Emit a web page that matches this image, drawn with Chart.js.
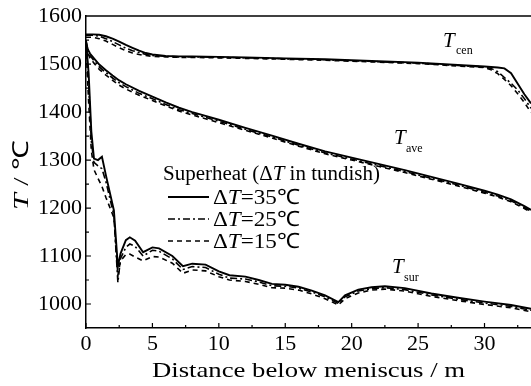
<!DOCTYPE html>
<html lang="en">
  <head>
    <meta charset="UTF-8" />
    <title>Temperature below meniscus</title>
    <script src="https://cdn.jsdelivr.net/npm/chart.js@4.4.1/dist/chart.umd.min.js"></script>
    <style>
      body {
        margin: 0;
        background: #fff;
      }
    </style>
  </head>
  <body>
    <canvas id="chart" width="531" height="386"></canvas>
    <script>
      // distance below meniscus (m)
      const xCen = [0, 0.5, 1, 1.5, 2, 2.5, 3, 3.5, 4, 4.5, 5, 6, 7, 8, 10, 12, 15, 18, 20, 22, 25, 28, 30, 30.5, 31, 31.5, 32, 32.5, 33, 33.5];
      const cen35 = [1562, 1562, 1561, 1558, 1553, 1547, 1540, 1534, 1528, 1523, 1520, 1517, 1516, 1516, 1515, 1514, 1512, 1510, 1508, 1506, 1503, 1498, 1495, 1494, 1493, 1491, 1481, 1459, 1437, 1418];
      const cen25 = [1560, 1560, 1558, 1553, 1547, 1540, 1533, 1528, 1524, 1520, 1518, 1516, 1515, 1515, 1514, 1513, 1511, 1509, 1507, 1505, 1502, 1497, 1494, 1491, 1484, 1472, 1460, 1446, 1428, 1408];
      const cen15 = [1556, 1556, 1553, 1548, 1541, 1534, 1528, 1523, 1520, 1518, 1516, 1515, 1514, 1514, 1513, 1512, 1510, 1508, 1506, 1504, 1501, 1496, 1493, 1488, 1480, 1468, 1455, 1438, 1420, 1399];

      const xAve = [0, 0.15, 0.3, 0.6, 1, 1.5, 2, 2.5, 3, 4, 5, 6, 7, 8, 9, 10, 12, 14, 16, 18, 20, 22, 24, 26, 28, 30, 31, 32, 33, 33.5];
      const ave35 = [1545, 1530, 1522, 1512, 1499, 1487, 1476, 1466, 1458, 1444, 1432, 1420, 1409, 1400, 1392, 1384, 1367, 1351, 1334, 1318, 1305, 1292, 1279, 1265, 1251, 1236, 1228, 1218, 1204, 1196];
      const ave25 = [1550, 1527, 1518, 1507, 1494, 1482, 1471, 1461, 1453, 1439, 1428, 1416, 1405, 1397, 1389, 1381, 1364, 1348, 1331, 1315, 1302, 1289, 1276, 1262, 1248, 1233, 1225, 1215, 1201, 1193];
      const ave15 = [1540, 1522, 1513, 1502, 1489, 1477, 1466, 1456, 1448, 1435, 1424, 1413, 1402, 1394, 1386, 1378, 1362, 1346, 1329, 1313, 1300, 1287, 1274, 1260, 1246, 1231, 1223, 1213, 1199, 1191];

      const xSur = [0, 0.2, 0.4, 0.6, 0.9, 1.2, 1.5, 2.1, 2.4, 2.6, 3.0, 3.3, 3.7, 4.3, 5.0, 5.5, 6.5, 7.3, 8.0, 9.0, 10.0, 10.8, 12, 13, 14, 15, 16, 17, 18, 19, 19.5, 20.5, 21.5, 22.5, 24, 26, 28, 30, 32, 33.5];
      const sur35 = [1550, 1480, 1360, 1303, 1300, 1307, 1268, 1195, 1078, 1105, 1133, 1139, 1132, 1108, 1118, 1116, 1100, 1079, 1084, 1082, 1068, 1060, 1057, 1050, 1042, 1040, 1036, 1028, 1018, 1004, 1018, 1030, 1035, 1037, 1033, 1022, 1013, 1005, 998, 990];
      const sur25 = [1548, 1460, 1340, 1295, 1288, 1282, 1255, 1185, 1045, 1095, 1118, 1125, 1120, 1100, 1112, 1110, 1094, 1072, 1078, 1076, 1062, 1054, 1052, 1046, 1038, 1037, 1033, 1025, 1015, 1001, 1015, 1027, 1032, 1034, 1030, 1019, 1010, 1002, 995, 987];
      const sur15 = [1540, 1420, 1320, 1280, 1262, 1245, 1222, 1180, 1060, 1090, 1103, 1104, 1098, 1090, 1099, 1098, 1085, 1064, 1071, 1069, 1057, 1050, 1047, 1041, 1034, 1033, 1029, 1021, 1011, 998, 1011, 1023, 1029, 1031, 1027, 1016, 1007, 999, 992, 984];

      const xTicks = [0, 5, 10, 15, 20, 25, 30];
      const yTicks = [1000, 1100, 1200, 1300, 1400, 1500, 1600];

      const serif = "'Liberation Serif', serif";
      const solid = [];
      const dashDot = [7, 3, 2, 3];
      const dashed = [5, 4];

      function pts(xs, ys) {
        return xs.map((x, i) => ({ x: x, y: ys[i] }));
      }

      function line(label, xs, ys, dash) {
        return {
          label: label,
          data: pts(xs, ys),
          borderColor: "#000",
          borderWidth: dash.length ? 1.6 : 1.9,
          borderDash: dash,
          pointRadius: 0,
          fill: false,
          tension: 0
        };
      }

      // ticks, top frame, titles, legend and curve labels
      const extras = {
        id: "extras",
        afterDraw(chart) {
          const ctx = chart.ctx;
          const a = chart.chartArea;
          const sx = chart.scales.x;
          const sy = chart.scales.y;
          ctx.save();
          ctx.strokeStyle = "#000";
          ctx.fillStyle = "#000";

          ctx.lineWidth = 1.5;
          ctx.beginPath();
          ctx.moveTo(a.left, a.top);
          ctx.lineTo(a.right, a.top);
          ctx.stroke();

          ctx.lineWidth = 1.2;
          ctx.beginPath();
          for (let v = 0; v <= 33; v += 2.5) {
            const px = sx.getPixelForValue(v);
            const len = v % 5 === 0 ? 5 : 3;
            ctx.moveTo(px, a.bottom);
            ctx.lineTo(px, a.bottom - len);
          }
          for (let v = 1000; v <= 1550; v += 50) {
            const py = sy.getPixelForValue(v);
            const len = v % 100 === 0 ? 5 : 3;
            ctx.moveTo(a.left, py);
            ctx.lineTo(a.left + len, py);
          }
          ctx.stroke();

          // mixed upright / italic text, optionally stretched to a width
          function runs(parts, x, y, size, width) {
            ctx.save();
            ctx.textBaseline = "alphabetic";
            ctx.textAlign = "left";
            let total = 0;
            parts.forEach(p => {
              ctx.font = (p[1] ? "italic " : "") + size + "px " + serif;
              total += ctx.measureText(p[0]).width;
            });
            ctx.translate(x, y);
            if (width) ctx.scale(width / total, 1);
            let cx = 0;
            parts.forEach(p => {
              ctx.font = (p[1] ? "italic " : "") + size + "px " + serif;
              ctx.fillText(p[0], cx, 0);
              cx += ctx.measureText(p[0]).width;
            });
            ctx.restore();
          }

          // axis titles
          runs([["Distance below meniscus / m", false]], 152, 377, 22, 313);
          ctx.save();
          ctx.translate(28, 210);
          ctx.rotate(-Math.PI / 2);
          runs([["T", true], [" / \u2103", false]], 0, 0, 22, 70);
          ctx.restore();

          // legend
          runs([["Superheat (\u0394", false], ["T", true], [" in tundish)", false]], 163, 180, 20, 217);
          const rows = [
            [solid, "35", 197],
            [dashDot, "25", 219],
            [dashed, "15", 241]
          ];
          rows.forEach(r => {
            ctx.setLineDash(r[0]);
            ctx.lineWidth = r[0].length ? 1.6 : 1.9;
            ctx.beginPath();
            ctx.moveTo(168, r[2]);
            ctx.lineTo(209, r[2]);
            ctx.stroke();
            ctx.setLineDash([]);
            runs([["\u0394", false], ["T", true], ["=" + r[1] + "\u2103", false]], 213, r[2] + 7, 21, 87);
          });

          // curve labels
          runs([["T", true]], 443, 47, 21);
          runs([["cen", false]], 456, 54, 12);
          runs([["T", true]], 394, 144, 21);
          runs([["ave", false]], 406, 152, 12);
          runs([["T", true]], 392, 273, 21);
          runs([["sur", false]], 404, 281, 12);

          ctx.restore();
        }
      };

      new Chart(document.getElementById("chart"), {
        type: "line",
        data: {
          datasets: [
            line("T_cen, ΔT=35", xCen, cen35, solid),
            line("T_cen, ΔT=25", xCen, cen25, dashDot),
            line("T_cen, ΔT=15", xCen, cen15, dashed),
            line("T_ave, ΔT=35", xAve, ave35, solid),
            line("T_ave, ΔT=25", xAve, ave25, dashDot),
            line("T_ave, ΔT=15", xAve, ave15, dashed),
            line("T_sur, ΔT=35", xSur, sur35, solid),
            line("T_sur, ΔT=25", xSur, sur25, dashDot),
            line("T_sur, ΔT=15", xSur, sur15, dashed)
          ]
        },
        options: {
          responsive: false,
          animation: false,
          devicePixelRatio: 1,
          layout: { padding: { top: 13, right: 0, bottom: 0, left: 0 } },
          plugins: {
            legend: { display: false },
            tooltip: { enabled: false }
          },
          scales: {
            x: {
              type: "linear",
              min: 0,
              max: 33.5,
              afterFit: s => { s.height = 58; },
              afterBuildTicks: s => { s.ticks = xTicks.map(v => ({ value: v })); },
              grid: { display: false, drawTicks: false },
              border: { display: true, color: "#000", width: 1.5 },
              ticks: {
                color: "#000",
                padding: 4,
                callback: v => String(v),
                font: { family: serif, size: 22, lineHeight: 1.1 }
              }
            },
            y: {
              min: 950,
              max: 1600,
              afterFit: s => { s.width = 86; },
              afterBuildTicks: s => { s.ticks = yTicks.map(v => ({ value: v })); },
              grid: { display: false, drawTicks: false },
              border: { display: true, color: "#000", width: 1.5 },
              ticks: {
                color: "#000",
                padding: 4,
                callback: v => String(v),
                font: { family: serif, size: 22, lineHeight: 1.1 }
              }
            }
          }
        },
        plugins: [extras]
      });
    </script>
  </body>
</html>
